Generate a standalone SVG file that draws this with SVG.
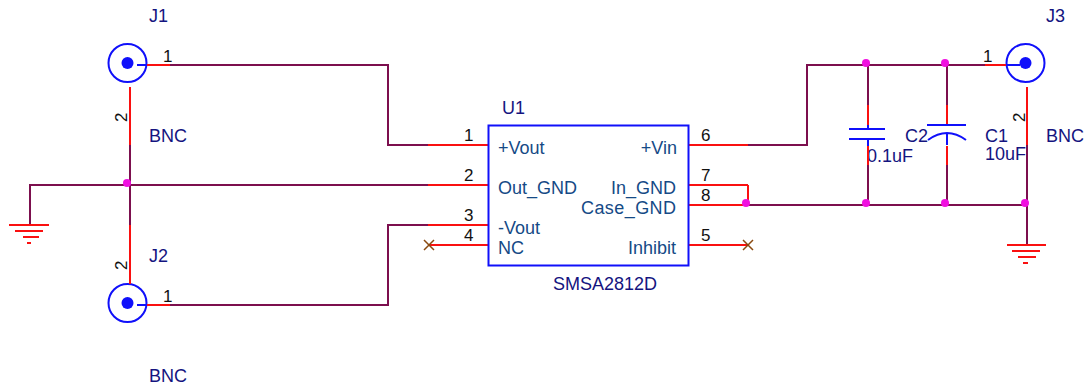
<svg xmlns="http://www.w3.org/2000/svg" width="1086" height="388" viewBox="0 0 1086 388">
<style>
text{font-family:"Liberation Sans",Arial,sans-serif;font-size:18px}
.r{fill:#14147f}.n{fill:#111;font-size:17px}.n text{font-size:17px}.p{fill:#154a86}
.w{fill:none;stroke:#7c0f4e;stroke-width:2}
.q{fill:none;stroke:#fa1010;stroke-width:2}
.b{fill:none;stroke:#1010fa;stroke-width:2}
.d{fill:#f010e0}
.x{fill:none;stroke:#8a4a10;stroke-width:1.500}
.e{text-anchor:end}
</style>
<rect width="1086" height="388" fill="#fff"/>
<g id="C2label"><text class="r" x="867" y="162">0.1uF</text></g>
<g id="connectors">
<path class="w" d="M170 65H388V145H428"/>
<path class="w" d="M130 145V225"/>
<path class="w" d="M428 185H30V225"/>
<path class="w" d="M170 305H388V225H428"/>
<path class="w" d="M748 145H807V65H985"/>
<path class="w" d="M748 205H1027"/>
<path class="w" d="M1027 145V245"/>
<path class="w" d="M868 65V105M868 165V205M947 65V105M947 165V205"/>
<path class="q" d="M748 185V205"/>
</g>
<g id="gnd1"><path class="q" d="M9 225H49M15 231H43M23 237H39M27 243H31"/></g>
<g id="gnd2"><path class="q" d="M1007 245H1046M1012 251H1040M1018 257H1036M1023 263H1028"/></g>
<g id="J1">
<circle class="b" cx="127.500" cy="63" r="19"/><circle cx="127.500" cy="63" r="6" fill="#1010fa"/>
<path class="q" d="M147 65H170M130 87V145"/><path class="b" d="M137 65H147"/>
<text class="r" x="149" y="22">J1</text><text class="r" x="149" y="142">BNC</text>
<text class="n" x="163" y="62">1</text><text class="n" transform="translate(127 122) rotate(-90)">2</text>
</g>
<g id="J2">
<circle class="b" cx="127.500" cy="303" r="19"/><circle cx="127.500" cy="303" r="6" fill="#1010fa"/>
<path class="q" d="M147 305H170M130 225V284"/><path class="b" d="M137 305H147"/>
<text class="r" x="149" y="262">J2</text><text class="r" x="149" y="382">BNC</text>
<text class="n" x="163" y="302">1</text><text class="n" transform="translate(127 270) rotate(-90)">2</text>
</g>
<g id="J3">
<circle class="b" cx="1025.500" cy="63" r="19"/><circle cx="1025.500" cy="63" r="6" fill="#1010fa"/>
<path class="q" d="M985 65H1006M1027 87V145"/><path class="b" d="M1006 65H1020"/>
<text class="r" x="1046" y="22">J3</text><text class="r" x="1046" y="142">BNC</text>
<text class="n" x="983" y="62">1</text><text class="n" transform="translate(1025 122) rotate(-90)">2</text>
</g>
<g id="U1">
<path class="q" d="M428 145H488M428 185H488M428 225H488M428 245H488M688 145H748M688 185H748M688 205H748M688 245H748"/>
<rect class="b" x="488.500" y="125.500" width="200" height="140"/>
<path class="x" d="M424 240L434 250M434 240L424 250M743 240L753 250M753 240L743 250"/>
<text class="r" x="502" y="114">U1</text><text class="r" x="553" y="290">SMSA2812D</text>
<g class="n"><text x="464" y="141">1</text><text x="464" y="181">2</text><text x="464" y="221">3</text><text x="464" y="241">4</text>
<text x="701" y="141">6</text><text x="701" y="181">7</text><text x="701" y="201">8</text><text x="701" y="241">5</text></g>
<g class="p"><text x="498" y="154">+Vout</text><text x="498" y="194">Out_GND</text><text x="498" y="234">-Vout</text><text x="498" y="254">NC</text>
<text class="e" x="677" y="154">+Vin</text><text class="e" x="676" y="194">In_GND</text><text x="581" y="214" textLength="95">Case_GND</text><text class="e" x="676" y="254">Inhibit</text></g>
</g>
<g id="C2">
<path class="q" d="M868 105V125M868 146V165"/>
<path class="b" d="M849 129H885M849 139H885M868 125V129M868 139V146"/>
<text class="r" x="905" y="142">C2</text>
</g>
<g id="C1">
<path class="q" d="M947 105V125M947 146V165"/>
<path class="b" d="M927 125H966M947 133V145M928 140Q947 126 966 140"/>
<text class="r" x="985" y="142" textLength="23">C1</text><text class="r" x="985" y="160">10uF</text>
</g>
<g id="junctions">
<circle class="d" cx="127" cy="183" r="4"/><circle class="d" cx="866" cy="63" r="4"/><circle class="d" cx="945" cy="63" r="4"/>
<circle class="d" cx="746" cy="203" r="4"/><circle class="d" cx="866" cy="203" r="4"/><circle class="d" cx="945" cy="203" r="4"/><circle class="d" cx="1025" cy="203" r="4"/>
</g>
</svg>
